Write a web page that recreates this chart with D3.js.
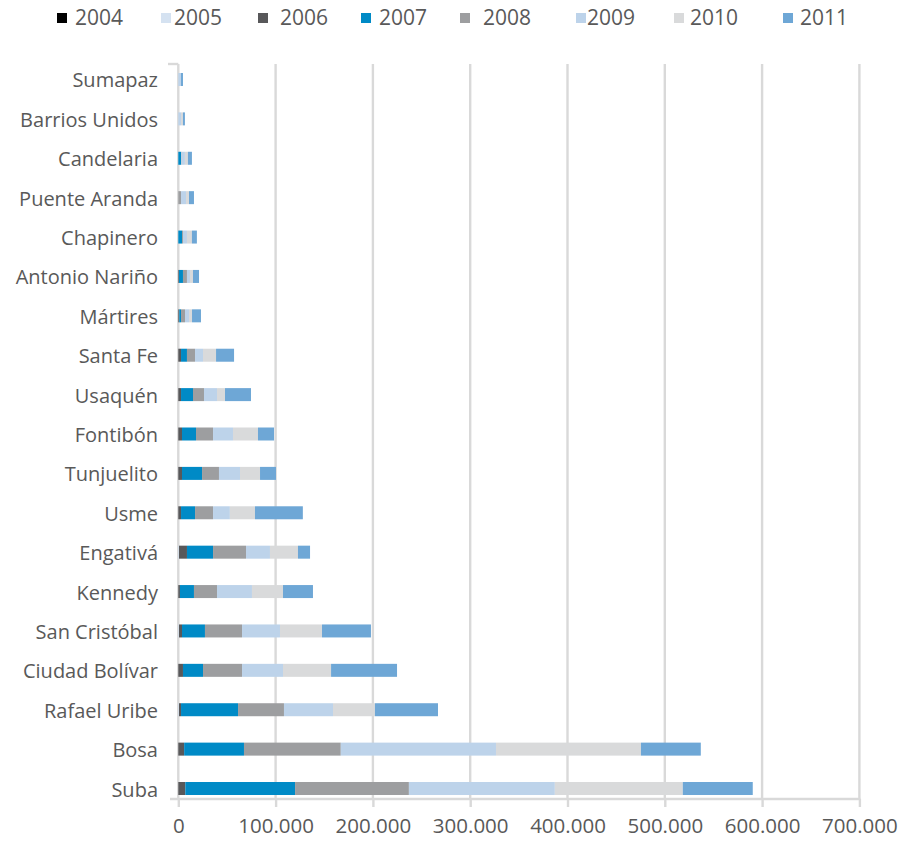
<!DOCTYPE html>
<html>
<head>
<meta charset="utf-8">
<script src="https://cdn.jsdelivr.net/npm/d3@7"></script>
<style>
  html, body { margin: 0; padding: 0; background: #ffffff; }
  svg { display: block; }
</style>
</head>
<body>
<svg id="chart" width="901" height="841"></svg>
<script>
// Localities, top to bottom
const localidades = [
  "Sumapaz", "Barrios Unidos", "Candelaria", "Puente Aranda", "Chapinero",
  "Antonio Nariño", "Mártires", "Santa Fe", "Usaquén", "Fontibón",
  "Tunjuelito", "Usme", "Engativá", "Kennedy", "San Cristóbal",
  "Ciudad Bolívar", "Rafael Uribe", "Bosa", "Suba"
];

const years = ["2004", "2005", "2006", "2007", "2008", "2009", "2010", "2011"];

// Yearly values per locality (same order as localidades)
const v2004 = [0, 0, 0, 0, 0, 0, 0, 0, 0, 0, 0, 0, 0, 0, 0, 0, 0, 0, 0];
const v2005 = [0, 0, 0, 0, 0, 0, 0, 0, 0, 0, 0, 0, 700, 0, 700, 0, 700, 0, 0];
const v2006 = [0, 0, 0, 0, 0, 700, 1000, 2800, 2800, 3800, 3800, 2800, 8200, 1700, 3100, 4800, 2100, 6000, 7200];
const v2007 = [0, 0, 2800, 0, 3800, 4100, 1800, 6100, 12300, 14400, 20600, 14400, 26800, 14400, 23600, 20600, 58600, 61500, 112800];
const v2008 = [0, 0, 500, 2800, 1000, 4100, 4100, 8300, 11300, 17500, 17400, 18500, 33900, 23700, 38100, 40100, 47200, 99500, 117000];
const v2009 = [2800, 2800, 3500, 5100, 4100, 3100, 4100, 8200, 13400, 20500, 21600, 17300, 24600, 35900, 39000, 42100, 50400, 159500, 150000];
const v2010 = [0, 2000, 3100, 3100, 5100, 3100, 3100, 13400, 8200, 25700, 20600, 25800, 28800, 31900, 43200, 49400, 43100, 149000, 131500];
const v2011 = [2000, 2000, 4100, 5100, 5100, 6200, 9200, 18500, 26700, 16500, 16400, 49200, 12400, 30800, 50300, 67800, 64800, 61500, 71900];

const seriesValues = [v2004, v2005, v2006, v2007, v2008, v2009, v2010, v2011];
const seriesColors = ["#000000", "#d5e2f1", "#58585a", "#008ac6", "#9d9ea0", "#bdd3ea", "#d9dadb", "#6ea7d6"];

const xTicks = [0, 100000, 200000, 300000, 400000, 500000, 600000, 700000];

const rows = localidades.map((name, i) => {
  const row = { name };
  years.forEach((y, k) => { row[y] = seriesValues[k][i]; });
  return row;
});

const svg = d3.select("#chart");
const font = "'Open Sans', sans-serif";
const textColor = "#595959";
const gridColor = "#d9d9d9";

const plotTop = 64, axisY = 799;

const x = d3.scaleLinear().domain([0, 700000]).range([178.3, 859.4]);
const y = d3.scaleBand().domain(localidades).range([53.3, 814.7])
  .paddingInner(0.67).paddingOuter(0.5);

// vertical gridlines
svg.append("g").selectAll("line").data(xTicks).join("line")
  .attr("x1", d => x(d)).attr("x2", d => x(d))
  .attr("y1", plotTop).attr("y2", axisY)
  .attr("stroke", gridColor).attr("stroke-width", 2.4);

// small tick at the top of the category axis
svg.append("line")
  .attr("x1", 168).attr("x2", x(0)).attr("y1", plotTop).attr("y2", plotTop)
  .attr("stroke", gridColor).attr("stroke-width", 2.4);

// stacked bars
const stack = d3.stack().keys(years)(rows);
svg.append("g").selectAll("g").data(stack).join("g")
  .attr("fill", (d, i) => seriesColors[i])
  .selectAll("rect").data(d => d).join("rect")
  .attr("x", d => x(d[0]))
  .attr("width", d => Math.max(0, x(d[1]) - x(d[0])))
  .attr("y", d => y(d.data.name))
  .attr("height", y.bandwidth());

// x axis
const xAxis = d3.axisBottom(x).tickValues(xTicks).tickSize(8).tickPadding(11)
  .tickFormat(d => d3.format(",")(d).replace(/,/g, "."));
const gx = svg.append("g").attr("transform", `translate(0,${axisY})`).call(xAxis);
gx.select(".domain").remove();
gx.append("line").attr("x1", 170).attr("x2", x(700000) + 1)
  .attr("stroke", gridColor).attr("stroke-width", 2.4);
gx.selectAll(".tick line").attr("stroke", gridColor).attr("stroke-width", 2.4);
gx.selectAll(".tick text").attr("fill", textColor)
  .style("font-family", font).style("font-size", "20.5px");

// category labels
svg.append("g").selectAll("text").data(localidades).join("text")
  .attr("x", 158)
  .attr("y", d => y(d) + y.bandwidth() / 2 + 1)
  .attr("dy", "0.35em")
  .attr("text-anchor", "end")
  .attr("fill", textColor)
  .style("font-family", font).style("font-size", "20px")
  .text(d => d);

// legend
const legendSwatchX = [57, 161, 258, 361, 460, 576, 674, 783];
const legendTextX = [75, 174, 280, 379, 483, 587, 690, 800];
const lg = svg.append("g").selectAll("g").data(years).join("g");
lg.append("rect")
  .attr("x", (d, i) => legendSwatchX[i]).attr("y", 13)
  .attr("width", 10).attr("height", 10)
  .attr("fill", (d, i) => seriesColors[i]);
lg.append("text")
  .attr("x", (d, i) => legendTextX[i]).attr("y", 18).attr("dy", "0.35em")
  .attr("fill", textColor)
  .style("font-family", font).style("font-size", "21px")
  .text(d => d);
</script>
</body>
</html>
